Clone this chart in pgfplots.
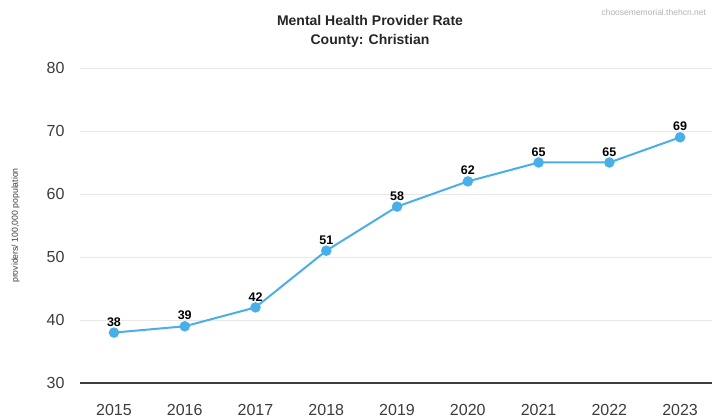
\documentclass[border=0pt]{standalone}
\usepackage{pgfplots}
\pgfplotsset{compat=1.18}
\usepackage{fontspec}
\setmainfont{Liberation Sans}
\definecolor{lineblue}{RGB}{74,174,232}
\definecolor{tickgray}{RGB}{60,60,60}
\definecolor{gridgray}{RGB}{232,232,232}

\begin{document}
\begin{tikzpicture}
% page frame: 713 x 419, axis box at (0,0)-(632,315)
\path[use as bounding box] (-80pt,-36pt) rectangle (633pt,383pt);
\begin{axis}[
    at={(0,0)}, anchor=south west,
    scale only axis,
    width=632pt, height=315pt,
    xmin=2014.52, xmax=2023.45,
    ymin=30, ymax=80,
    xtick={2015,...,2023},
    ytick={30,40,...,80},
    xticklabel style={/pgf/number format/1000 sep={}, font=\fontsize{16}{16}\selectfont, text=tickgray, yshift=-18pt},
    yticklabel style={font=\fontsize{16}{16}\selectfont, text=tickgray, xshift=-12pt},
    /pgf/number format/assume math mode=true,
    axis x line*=bottom,
    axis y line*=left,
    y axis line style={draw=none},
    x axis line style={draw=tickgray, line width=1.2pt, -},
    major tick length=0pt,
    ymajorgrids,
    grid style={draw=gridgray, line width=0.8pt},
    ylabel={providers/ 100,000 population},
    ylabel style={font=\fontsize{8.7}{9}\selectfont, text=tickgray, yshift=20pt},
    clip=false,
    nodes near coords,
    every node near coord/.append style={font=\fontsize{12.5}{12.5}\selectfont\bfseries, text=black, anchor=south, yshift=2pt},
]
\addplot[lineblue, line width=2pt, mark=*, mark size=4.2pt, mark options={fill=lineblue, draw=lineblue}]
coordinates {
    (2015,38)(2016,39)(2017,42)(2018,51)(2019,58)(2020,62)(2021,65)(2022,65)(2023,69)
};
\end{axis}
\node[font=\fontsize{14}{19}\selectfont\bfseries, align=center, text=black!85] at (290pt,352pt) {Mental Health Provider Rate\\County: Christian};
\node[font=\fontsize{8.5}{9}\selectfont, text=black!30, anchor=west] at (518pt,371pt) {choosememorial.thehcn.net};
\end{tikzpicture}
\end{document}
